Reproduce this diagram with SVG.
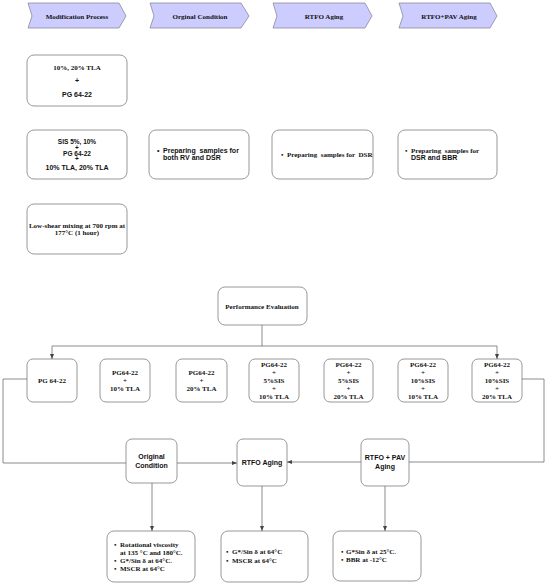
<svg xmlns="http://www.w3.org/2000/svg" width="550" height="585" viewBox="0 0 550 585">
<style>
.hdr{fill:#ccccff;stroke:#8a8a9a;stroke-width:0.8}
.box{fill:#fff;stroke:#8c8c8c;stroke-width:0.9}
.s{font-family:"Liberation Serif",serif;font-weight:bold;font-size:7px;fill:#111}
.a{font-family:"Liberation Sans",Arial,sans-serif;font-weight:bold;font-size:7px;fill:#111}
.sm{font-size:6.5px}
.c{text-anchor:middle}
.pre{white-space:pre}
.ln{fill:none;stroke:#6e6e6e;stroke-width:0.8}
</style>
<defs>
<marker id="ar" markerWidth="6" markerHeight="6" refX="5" refY="3" orient="auto" markerUnits="userSpaceOnUse">
<path d="M0,1 L5,3 L0,5 z" fill="#444"/>
</marker>
</defs>

<g id="h1"><polygon class="hdr" points="28,3 119,3 126,16 119,28 28,28 32,16"/><text class="s c" x="77" y="18.5">Modification Process</text></g>
<g id="h2"><polygon class="hdr" points="150,3 241,3 249,16 241,28 150,28 154,16"/><text class="s c" x="200" y="18.5">Orginal Condition</text></g>
<g id="h3"><polygon class="hdr" points="273,3 365,3 372,16 365,28 273,28 277,16"/><text class="s c" x="324" y="18.5">RTFO Aging</text></g>
<g id="h4"><polygon class="hdr" points="399,3 490,3 497,16 490,28 399,28 403,16"/><text class="s c" x="449" y="18.5">RTFO+PAV Aging</text></g>

<g id="m1"><rect class="box" x="27" y="55" width="100" height="51" rx="7"/>
<text class="s c" x="77" y="70">10%, 20% TLA</text>
<text class="a c" x="77" y="82.5">+</text>
<text class="a c" x="77" y="97">PG 64-22</text></g>

<g id="m2"><rect class="box" x="27" y="130" width="100" height="49" rx="7"/>
<text class="a sm c" x="77" y="144">SIS 5%, 10%</text>
<text class="a sm c" x="77" y="149.5">+</text>
<text class="a sm c" x="77" y="155.5">PG 64-22</text>
<text class="a sm c" x="77" y="161">+</text>
<text class="a c" x="77" y="170">10% TLA, 20% TLA</text></g>

<g id="o1"><rect class="box" x="149" y="130" width="100" height="49" rx="7"/>
<text class="a" x="157" y="152.5">•</text>
<text class="a pre" x="163" y="152.5">Preparing  samples for</text>
<text class="a" x="163" y="160">both RV and DSR</text></g>

<g id="r1"><rect class="box" x="272" y="130" width="101" height="49" rx="7"/>
<text class="s" x="281" y="157">•</text>
<text class="s pre" x="287" y="157">Preparing  samples for  DSR</text></g>

<g id="p1"><rect class="box" x="398" y="130" width="99" height="49" rx="7"/>
<text class="s" x="405" y="152.5">•</text>
<text class="s pre" x="411" y="152.5">Preparing  samples for</text>
<text class="a" x="411" y="160">DSR and BBR</text></g>

<g id="m3"><rect class="box" x="27" y="204" width="100" height="50" rx="7"/>
<text class="s c" x="77" y="228">Low-shear mixing at 700 rpm at</text>
<text class="s c" x="77" y="235">177°C (1 hour)</text></g>

<g id="pe"><rect class="box" x="218" y="287" width="89" height="38" rx="7"/>
<text class="s c" x="262" y="308.5">Performance Evaluation</text></g>

<g id="b1"><rect class="box" x="27" y="359" width="50" height="43" rx="6"/>
<text class="s c" x="52" y="382.5">PG 64-22</text></g>
<g id="b2"><rect class="box" x="100" y="359" width="50" height="43" rx="6"/>
<text class="s c" x="125" y="375">PG64-22</text><text class="s c" x="125" y="382.5">+</text><text class="s c" x="125" y="391">10% TLA</text></g>
<g id="b3"><rect class="box" x="176" y="359" width="51" height="43" rx="6"/>
<text class="s c" x="201.5" y="375">PG64-22</text><text class="s c" x="201.5" y="382.5">+</text><text class="s c" x="201.5" y="391">20% TLA</text></g>
<g id="b4"><rect class="box" x="249" y="359" width="50" height="43" rx="6"/>
<text class="s c" x="274" y="367">PG64-22</text><text class="s c" x="274" y="375">+</text><text class="s c" x="274" y="382.5">5%SIS</text><text class="s c" x="274" y="390.5">+</text><text class="s c" x="274" y="399">10% TLA</text></g>
<g id="b5"><rect class="box" x="324" y="359" width="49" height="43" rx="6"/>
<text class="s c" x="348.5" y="367">PG64-22</text><text class="s c" x="348.5" y="375">+</text><text class="s c" x="348.5" y="382.5">5%SIS</text><text class="s c" x="348.5" y="390.5">+</text><text class="s c" x="348.5" y="399">20% TLA</text></g>
<g id="b6"><rect class="box" x="398" y="359" width="50" height="43" rx="6"/>
<text class="s c" x="423" y="367">PG64-22</text><text class="s c" x="423" y="375">+</text><text class="s c" x="423" y="382.5">10%SIS</text><text class="s c" x="423" y="390.5">+</text><text class="s c" x="423" y="399">10% TLA</text></g>
<g id="b7"><rect class="box" x="472" y="359" width="50" height="43" rx="6"/>
<text class="s c" x="497" y="367">PG64-22</text><text class="s c" x="497" y="375">+</text><text class="s c" x="497" y="382.5">10%SIS</text><text class="s c" x="497" y="390.5">+</text><text class="s c" x="497" y="399">20% TLA</text></g>

<g id="oc"><rect class="box" x="126" y="439" width="51" height="44" rx="6"/>
<text class="a c" x="151.5" y="458.5">Original</text><text class="a c" x="151.5" y="467.5">Condition</text></g>
<g id="ra"><rect class="box" x="237" y="439" width="50" height="47" rx="6"/>
<text class="a c" x="262" y="465">RTFO Aging</text></g>
<g id="pa"><rect class="box" x="361" y="439" width="48" height="47" rx="6"/>
<text class="a c" x="385" y="460">RTFO + PAV</text><text class="a c" x="385" y="469">Aging</text></g>

<g id="t1"><rect class="box" x="107" y="531" width="88" height="51" rx="7"/>
<text class="s" x="114" y="547">•</text><text class="s" x="120" y="547">Rotational viscosity</text>
<text class="s" x="120" y="554.5">at 135 °C and 180°C.</text>
<text class="s" x="114" y="562.5">•</text><text class="s" x="120" y="562.5">G*/Sin δ at 64°C.</text>
<text class="s" x="114" y="571">•</text><text class="s" x="120" y="571">MSCR at 64°C</text></g>
<g id="t2"><rect class="box" x="221" y="531" width="87" height="51" rx="7"/>
<text class="s" x="226" y="554">•</text><text class="s" x="232" y="554">G*/Sin δ at 64°C</text>
<text class="s" x="226" y="562.5">•</text><text class="s" x="232" y="562.5">MSCR at 64°C</text></g>
<g id="t3"><rect class="box" x="333" y="531" width="88" height="50" rx="7"/>
<text class="s" x="341" y="554">•</text><text class="s" x="346" y="554">G*Sin δ at 25°C.</text>
<text class="s" x="341" y="562">•</text><text class="s" x="346" y="562">BBR at -12°C</text></g>

<g id="connectors">
<path class="ln" d="M262,325 V346"/>
<path class="ln" d="M52,346 H497"/>
<path class="ln" d="M52,346 V359" marker-end="url(#ar)"/>
<path class="ln" d="M497,346 V359" marker-end="url(#ar)"/>
<path class="ln" d="M27,379 H3 V463 H126"/>
<path class="ln" d="M177,463 H237" marker-end="url(#ar)"/>
<path class="ln" d="M522,379 H544 V462 H409"/>
<path class="ln" d="M361,462 H287" marker-end="url(#ar)"/>
<path class="ln" d="M152,483 V531" marker-end="url(#ar)"/>
<path class="ln" d="M262,486 V531" marker-end="url(#ar)"/>
<path class="ln" d="M385,486 V531" marker-end="url(#ar)"/>
</g>
</svg>
